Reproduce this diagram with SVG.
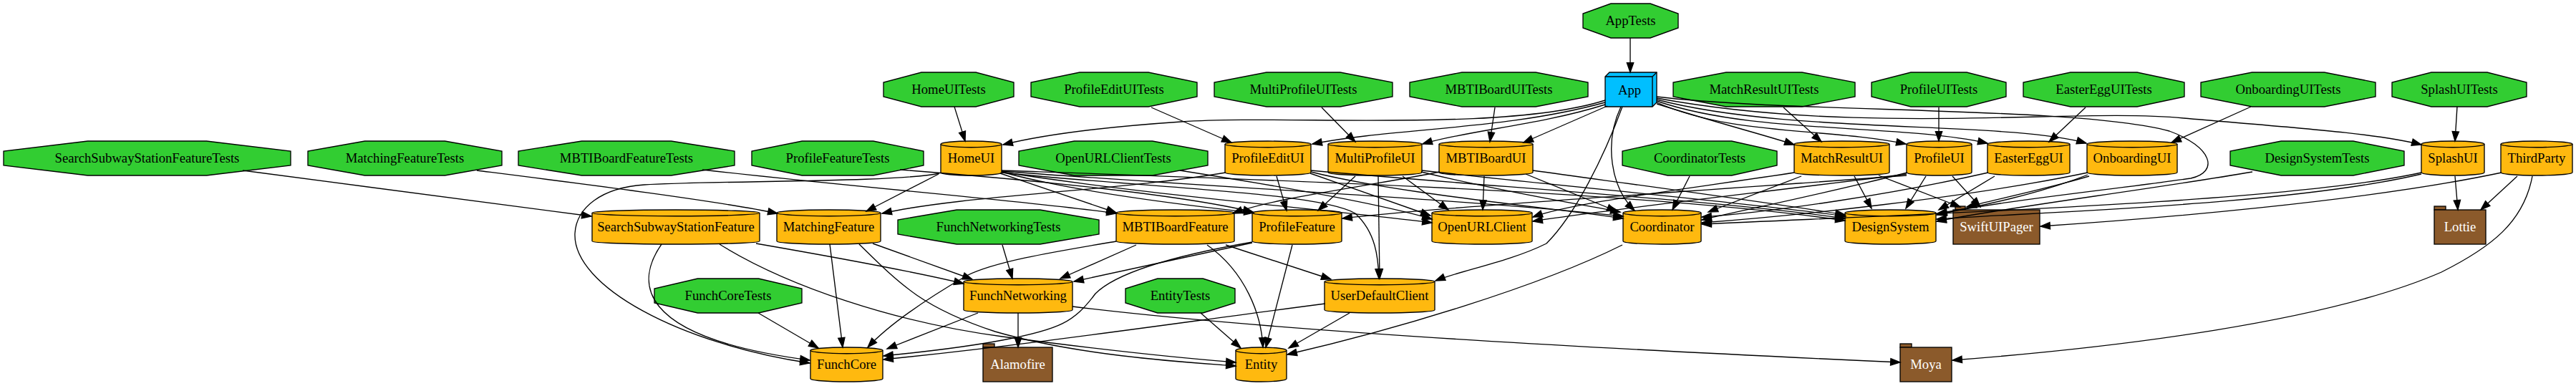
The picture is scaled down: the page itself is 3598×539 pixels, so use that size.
<svg xmlns="http://www.w3.org/2000/svg" width="3598" height="539" viewBox="0 0 3598 539">
<style>
.oct{fill:#32cd32;stroke:#000;stroke-width:1.33}
.cyl{fill:#ffb90f;stroke:#000;stroke-width:1.33}
.cf{fill:none;stroke:#000;stroke-width:1.33}
.fold{fill:#8b5a2b;stroke:#000;stroke-width:1.33}
.app{fill:#00bfff;stroke:#000;stroke-width:1.33}
text{font-family:"Liberation Serif","Times New Roman",serif;font-size:18.67px;text-anchor:middle;fill:#000}
text.w{fill:#fff}
#edges path{fill:none;stroke:#000;stroke-width:1.33;marker-end:url(#a)}
</style>
<defs>
<marker id="a" markerWidth="14" markerHeight="10" refX="13.3" refY="4.67" orient="auto" markerUnits="userSpaceOnUse" overflow="visible"><path d="M0,0 L13.3,4.67 L0,9.33 Z" fill="#000" stroke="#000" stroke-width="1.33"/></marker>
</defs>
<rect width="3598" height="539" fill="#fff"/>
<g id="nodes">
<g id="AppTests"><polygon class="oct" points="2250,5 2305,5 2344,19 2344,39 2305,53 2250,53 2211,39 2211,19"/><text x="2277.5" y="35">AppTests</text></g>
<g id="HomeUITests"><polygon class="oct" points="1287,101 1363,101 1416,115 1416,135 1363,149 1287,149 1234,135 1234,115"/><text x="1325" y="131">HomeUITests</text></g>
<g id="ProfileEditUITests"><polygon class="oct" points="1508,101 1604,101 1672,115 1672,135 1604,149 1508,149 1440,135 1440,115"/><text x="1556" y="131">ProfileEditUITests</text></g>
<g id="MultiProfileUITests"><polygon class="oct" points="1769,101 1872,101 1945,115 1945,135 1872,149 1769,149 1696,135 1696,115"/><text x="1820.5" y="131">MultiProfileUITests</text></g>
<g id="MBTIBoardUITests"><polygon class="oct" points="2042,101 2145,101 2218,115 2218,135 2145,149 2042,149 1969,135 1969,115"/><text x="2093.5" y="131">MBTIBoardUITests</text></g>
<g id="App"><polygon class="app" points="2242,107 2248,101 2314,101 2314,143 2308,149 2242,149"/><path class="cf" d="M2242,107 L2308,107 L2308,149 M2308,107 L2314,101"/><text x="2276" y="132">App</text></g>
<g id="MatchResultUITests"><polygon class="oct" points="2411,101 2517,101 2591,115 2591,135 2517,149 2411,149 2337,135 2337,115"/><text x="2464" y="131">MatchResultUITests</text></g>
<g id="ProfileUITests"><polygon class="oct" points="2669,101 2747,101 2802,115 2802,135 2747,149 2669,149 2614,135 2614,115"/><text x="2708" y="131">ProfileUITests</text></g>
<g id="EasterEggUITests"><polygon class="oct" points="2892,101 2985,101 3051,115 3051,135 2985,149 2892,149 2826,135 2826,115"/><text x="2938.5" y="131">EasterEggUITests</text></g>
<g id="OnboardingUITests"><polygon class="oct" points="3145.5,101 3246.5,101 3318,115 3318,135 3246.5,149 3145.5,149 3074,135 3074,115"/><text x="3196" y="131">OnboardingUITests</text></g>
<g id="SplashUITests"><polygon class="oct" points="3396,101 3474,101 3529,115 3529,135 3474,149 3396,149 3341,135 3341,115"/><text x="3435" y="131">SplashUITests</text></g>
<g id="SearchSubwayStationFeatureTests"><polygon class="oct" points="122.5,197 288.5,197 406,211 406,231 288.5,245 122.5,245 5,231 5,211"/><text x="205.5" y="227">SearchSubwayStationFeatureTests</text></g>
<g id="MatchingFeatureTests"><polygon class="oct" points="509.5,197 621.5,197 701,211 701,231 621.5,245 509.5,245 430,231 430,211"/><text x="565.5" y="227">MatchingFeatureTests</text></g>
<g id="MBTIBoardFeatureTests"><polygon class="oct" points="812.5,197 937.5,197 1026,211 1026,231 937.5,245 812.5,245 724,231 724,211"/><text x="875" y="227">MBTIBoardFeatureTests</text></g>
<g id="ProfileFeatureTests"><polygon class="oct" points="1120.3,197 1219.7,197 1290,211 1290,231 1219.7,245 1120.3,245 1050,231 1050,211"/><text x="1170" y="227">ProfileFeatureTests</text></g>
<g id="OpenURLClientTests"><polygon class="oct" points="1500.4,197 1609.6,197 1687,211 1687,231 1609.6,245 1500.4,245 1423,231 1423,211"/><text x="1555" y="227">OpenURLClientTests</text></g>
<g id="CoordinatorTests"><polygon class="oct" points="2329.3,197 2418.7,197 2482,211 2482,231 2418.7,245 2329.3,245 2266,231 2266,211"/><text x="2374" y="227">CoordinatorTests</text></g>
<g id="DesignSystemTests"><polygon class="oct" points="3186.2,197 3286.8,197 3358,211 3358,231 3286.8,245 3186.2,245 3115,231 3115,211"/><text x="3236.5" y="227">DesignSystemTests</text></g>
<g id="FunchNetworkingTests"><polygon class="oct" points="1336.3,293 1452.7,293 1535,307 1535,327 1452.7,341 1336.3,341 1254,327 1254,307"/><text x="1394.5" y="323">FunchNetworkingTests</text></g>
<g id="FunchCoreTests"><polygon class="oct" points="974.4,389 1059.6,389 1120,403 1120,423 1059.6,437 974.4,437 914,423 914,403"/><text x="1017" y="419">FunchCoreTests</text></g>
<g id="EntityTests"><polygon class="oct" points="1616.8,389 1680.2,389 1725,403 1725,423 1680.2,437 1616.8,437 1572,423 1572,403"/><text x="1648.5" y="419">EntityTests</text></g>

<g id="HomeUI"><path class="cyl" d="M1399,201.36 A42.5,4.36 0 0 0 1314,201.36 V240.64 A42.5,4.36 0 0 0 1399,240.64 Z"/><path class="cf" d="M1399,201.36 A42.5,4.36 0 0 1 1314,201.36"/><text x="1356.5" y="227">HomeUI</text></g>
<g id="ProfileEditUI"><path class="cyl" d="M1831,201.36 A60,4.36 0 0 0 1711,201.36 V240.64 A60,4.36 0 0 0 1831,240.64 Z"/><path class="cf" d="M1831,201.36 A60,4.36 0 0 1 1711,201.36"/><text x="1771" y="227">ProfileEditUI</text></g>
<g id="MultiProfileUI"><path class="cyl" d="M1986,201.36 A65.5,4.36 0 0 0 1855,201.36 V240.64 A65.5,4.36 0 0 0 1986,240.64 Z"/><path class="cf" d="M1986,201.36 A65.5,4.36 0 0 1 1855,201.36"/><text x="1920.5" y="227">MultiProfileUI</text></g>
<g id="MBTIBoardUI"><path class="cyl" d="M2141,201.36 A65.5,4.36 0 0 0 2010,201.36 V240.64 A65.5,4.36 0 0 0 2141,240.64 Z"/><path class="cf" d="M2141,201.36 A65.5,4.36 0 0 1 2010,201.36"/><text x="2075.5" y="227">MBTIBoardUI</text></g>
<g id="MatchResultUI"><path class="cyl" d="M2639,201.36 A66.5,4.36 0 0 0 2506,201.36 V240.64 A66.5,4.36 0 0 0 2639,240.64 Z"/><path class="cf" d="M2639,201.36 A66.5,4.36 0 0 1 2506,201.36"/><text x="2572.5" y="227">MatchResultUI</text></g>
<g id="ProfileUI"><path class="cyl" d="M2754,201.36 A45.5,4.36 0 0 0 2663,201.36 V240.64 A45.5,4.36 0 0 0 2754,240.64 Z"/><path class="cf" d="M2754,201.36 A45.5,4.36 0 0 1 2663,201.36"/><text x="2708.5" y="227">ProfileUI</text></g>
<g id="EasterEggUI"><path class="cyl" d="M2891,201.36 A57.5,4.36 0 0 0 2776,201.36 V240.64 A57.5,4.36 0 0 0 2891,240.64 Z"/><path class="cf" d="M2891,201.36 A57.5,4.36 0 0 1 2776,201.36"/><text x="2833.5" y="227">EasterEggUI</text></g>
<g id="OnboardingUI"><path class="cyl" d="M3041,201.36 A63,4.36 0 0 0 2915,201.36 V240.64 A63,4.36 0 0 0 3041,240.64 Z"/><path class="cf" d="M3041,201.36 A63,4.36 0 0 1 2915,201.36"/><text x="2978" y="227">OnboardingUI</text></g>
<g id="SplashUI"><path class="cyl" d="M3470,201.36 A44,4.36 0 0 0 3382,201.36 V240.64 A44,4.36 0 0 0 3470,240.64 Z"/><path class="cf" d="M3470,201.36 A44,4.36 0 0 1 3382,201.36"/><text x="3426" y="227">SplashUI</text></g>
<g id="ThirdParty"><path class="cyl" d="M3593,201.36 A50,4.36 0 0 0 3493,201.36 V240.64 A50,4.36 0 0 0 3593,240.64 Z"/><path class="cf" d="M3593,201.36 A50,4.36 0 0 1 3493,201.36"/><text x="3543" y="227">ThirdParty</text></g>
<g id="SearchSubwayStationFeature"><path class="cyl" d="M1061,297.36 A117,4.36 0 0 0 827,297.36 V336.64 A117,4.36 0 0 0 1061,336.64 Z"/><path class="cf" d="M1061,297.36 A117,4.36 0 0 1 827,297.36"/><text x="944" y="323">SearchSubwayStationFeature</text></g>
<g id="MatchingFeature"><path class="cyl" d="M1230,297.36 A72.5,4.36 0 0 0 1085,297.36 V336.64 A72.5,4.36 0 0 0 1230,336.64 Z"/><path class="cf" d="M1230,297.36 A72.5,4.36 0 0 1 1085,297.36"/><text x="1157.5" y="323">MatchingFeature</text></g>
<g id="MBTIBoardFeature"><path class="cyl" d="M1724,297.36 A82.5,4.36 0 0 0 1559,297.36 V336.64 A82.5,4.36 0 0 0 1724,336.64 Z"/><path class="cf" d="M1724,297.36 A82.5,4.36 0 0 1 1559,297.36"/><text x="1641.5" y="323">MBTIBoardFeature</text></g>
<g id="ProfileFeature"><path class="cyl" d="M1874,297.36 A62.5,4.36 0 0 0 1749,297.36 V336.64 A62.5,4.36 0 0 0 1874,336.64 Z"/><path class="cf" d="M1874,297.36 A62.5,4.36 0 0 1 1749,297.36"/><text x="1811.5" y="323">ProfileFeature</text></g>
<g id="OpenURLClient"><path class="cyl" d="M2140,297.36 A70,4.36 0 0 0 2000,297.36 V336.64 A70,4.36 0 0 0 2140,336.64 Z"/><path class="cf" d="M2140,297.36 A70,4.36 0 0 1 2000,297.36"/><text x="2070" y="323">OpenURLClient</text></g>
<g id="Coordinator"><path class="cyl" d="M2376,297.36 A54.5,4.36 0 0 0 2267,297.36 V336.64 A54.5,4.36 0 0 0 2376,336.64 Z"/><path class="cf" d="M2376,297.36 A54.5,4.36 0 0 1 2267,297.36"/><text x="2321.5" y="323">Coordinator</text></g>
<g id="DesignSystem"><path class="cyl" d="M2704,297.36 A63.5,4.36 0 0 0 2577,297.36 V336.64 A63.5,4.36 0 0 0 2704,336.64 Z"/><path class="cf" d="M2704,297.36 A63.5,4.36 0 0 1 2577,297.36"/><text x="2640.5" y="323">DesignSystem</text></g>
<g id="FunchNetworking"><path class="cyl" d="M1498,393.36 A76,4.36 0 0 0 1346,393.36 V432.64 A76,4.36 0 0 0 1498,432.64 Z"/><path class="cf" d="M1498,393.36 A76,4.36 0 0 1 1346,393.36"/><text x="1422" y="419">FunchNetworking</text></g>
<g id="UserDefaultClient"><path class="cyl" d="M2004,393.36 A77,4.36 0 0 0 1850,393.36 V432.64 A77,4.36 0 0 0 2004,432.64 Z"/><path class="cf" d="M2004,393.36 A77,4.36 0 0 1 1850,393.36"/><text x="1927" y="419">UserDefaultClient</text></g>
<g id="FunchCore"><path class="cyl" d="M1233,489.36 A50.5,4.36 0 0 0 1132,489.36 V528.64 A50.5,4.36 0 0 0 1233,528.64 Z"/><path class="cf" d="M1233,489.36 A50.5,4.36 0 0 1 1132,489.36"/><text x="1182.5" y="515">FunchCore</text></g>
<g id="Entity"><path class="cyl" d="M1797,489.36 A35.5,4.36 0 0 0 1726,489.36 V528.64 A35.5,4.36 0 0 0 1797,528.64 Z"/><path class="cf" d="M1797,489.36 A35.5,4.36 0 0 1 1726,489.36"/><text x="1761.5" y="515">Entity</text></g>

<g id="SwiftUIPager"><rect class="fold" x="2731" y="288" width="14" height="5"/><rect class="fold" x="2728" y="293" width="121" height="48"/><text class="w" x="2788.5" y="323">SwiftUIPager</text></g>
<g id="Lottie"><rect class="fold" x="3400" y="288" width="16" height="5"/><rect class="fold" x="3400" y="293" width="72" height="48"/><text class="w" x="3436" y="323">Lottie</text></g>
<g id="Alamofire"><rect class="fold" x="1373" y="480" width="16" height="5"/><rect class="fold" x="1373" y="485" width="97" height="48"/><text class="w" x="1421.5" y="515">Alamofire</text></g>
<g id="Moya"><rect class="fold" x="2654" y="480" width="16" height="5"/><rect class="fold" x="2654" y="485" width="72" height="48"/><text class="w" x="2690" y="515">Moya</text></g>
</g>
<g id="edges">
<path d="M2277,53 L2277,101"/>
<path d="M1333,149 L1348,197"/>
<path d="M1608,150 L1720,199"/>
<path d="M1846,150 L1893,198"/>
<path d="M2088,150 L2081,198"/>
<path d="M2491,150 L2544,198"/>
<path d="M2708,150 L2708,197"/>
<path d="M2913,150 L2862,198"/>
<path d="M3144,149 L3033,199"/>
<path d="M3432,149 L3429,197"/>
<path d="M339,238 L826,302"/>
<path d="M666,238 C800,255 1000,280 1086,298"/>
<path d="M981,237 C1200,262 1450,282 1559,298"/>
<path d="M1257,237 C1450,252 1650,272 1750,296"/>
<path d="M1648,238 C1800,262 1930,285 2000,306"/>
<path d="M2360,246 L2336,293"/>
<path d="M3146,240 C3000,265 2800,290 2705,309"/>
<path d="M1400,342 L1414,389"/>
<path d="M1059,437 L1143,486"/>
<path d="M1677,437 L1733,486"/>
<path d="M2242,140 C2100,185 1800,160 1650,170 C1530,178 1450,190 1401,202"/>
<path d="M2242,143 C2100,182 1950,178 1833,201"/>
<path d="M2242,146 C2150,175 2050,182 1987,201"/>
<path d="M2245,148 L2128,199"/>
<path d="M2264,149 C2240,200 2250,262 2283,294"/>
<path d="M2266,149 C2240,220 2200,300 2160,340 C2110,365 2040,378 2005,392"/>
<path d="M2314,145 C2400,172 2470,190 2506,202"/>
<path d="M2314,143 C2420,190 2550,178 2662,201"/>
<path d="M2314,141 C2450,188 2650,172 2776,200"/>
<path d="M2314,139 C2500,188 2800,168 2914,200"/>
<path d="M2314,137 C2600,190 2900,150 3050,165 C3200,178 3320,186 3382,202"/>
<path d="M2314,135 C2500,158 2900,148 3030,183 C3090,205 3100,240 3060,249 C2950,265 2780,282 2705,300"/>
<path d="M1312,242 C1250,255 1000,252 900,258 C840,262 805,290 803,326 C800,400 950,480 1131,507"/>
<path d="M1311,243 L1210,295"/>
<path d="M1397,242 L1559,297"/>
<path d="M1399,240 C1500,268 1650,286 1751,297"/>
<path d="M1399,240 C1600,272 1850,292 2000,311"/>
<path d="M1399,239 C1700,262 2050,278 2267,302"/>
<path d="M1399,238 C1800,252 2300,268 2577,308"/>
<path d="M1399,241 C1600,262 1840,268 1893,298 C1922,325 1925,360 1926,389"/>
<path d="M1783,246 L1797,294"/>
<path d="M1712,241 C1550,268 1350,272 1232,298"/>
<path d="M1830,242 L1998,301"/>
<path d="M1831,240 C1950,270 2150,288 2267,305"/>
<path d="M1831,238 C2100,262 2400,280 2577,305"/>
<path d="M1893,246 L1841,294"/>
<path d="M1925,246 L1927,389"/>
<path d="M1959,246 L2023,293"/>
<path d="M1985,240 C2100,268 2200,284 2263,296"/>
<path d="M1986,238 C2200,262 2450,284 2578,302"/>
<path d="M2011,240 C1900,262 1780,276 1722,298"/>
<path d="M2073,246 L2071,293"/>
<path d="M2131,243 L2258,295"/>
<path d="M2141,238 C2300,260 2480,284 2577,300"/>
<path d="M2516,246 L2386,296"/>
<path d="M2590,246 L2614,291"/>
<path d="M2624,245 L2738,289"/>
<path d="M2506,241 C2350,265 2200,282 2141,303"/>
<path d="M2690,246 L2662,291"/>
<path d="M2727,246 L2766,289"/>
<path d="M2664,241 C2550,270 2450,290 2377,307"/>
<path d="M2663,243 C2450,270 2250,292 2141,309"/>
<path d="M2663,245 C2300,272 2000,290 1875,305"/>
<path d="M2786,246 L2708,293"/>
<path d="M2777,241 C2650,270 2480,296 2377,303"/>
<path d="M2916,241 C2750,276 2500,302 2377,311"/>
<path d="M2916,244 C2850,270 2760,290 2706,298"/>
<path d="M2918,246 C2850,266 2780,280 2747,289"/>
<path d="M3429,246 L3433,293"/>
<path d="M3382,241 C3200,282 2700,298 2377,313"/>
<path d="M3382,243 C3200,286 2850,296 2705,306"/>
<path d="M3516,246 L3465,293"/>
<path d="M3494,241 C3300,282 3000,306 2850,316"/>
<path d="M3537,246 C3525,310 3480,345 3410,380 C3250,450 2950,486 2727,503"/>
<path d="M924,341 C890,390 880,470 1131,503"/>
<path d="M1056,340 C1200,365 1300,385 1346,396"/>
<path d="M1005,341 C1100,400 1250,450 1400,470 C1550,490 1650,500 1726,506"/>
<path d="M1159,341 L1177,485"/>
<path d="M1219,340 L1358,390"/>
<path d="M1200,341 C1260,400 1290,430 1390,463 C1500,495 1640,505 1726,511"/>
<path d="M1587,342 L1481,389"/>
<path d="M1559,337 C1470,352 1390,365 1350,385 C1290,420 1240,455 1212,485"/>
<path d="M1686,342 C1740,380 1762,440 1764,485"/>
<path d="M1712,342 L1859,390"/>
<path d="M1749,339 C1650,360 1560,380 1500,393"/>
<path d="M1805,342 L1768,485"/>
<path d="M1749,338 C1640,357 1560,380 1530,410 C1500,450 1480,460 1400,475 C1330,488 1280,492 1234,497"/>
<path d="M1366,437 L1239,487"/>
<path d="M1422,437 L1422,485"/>
<path d="M1498,428 C1800,465 2300,490 2654,506"/>
<path d="M1885,437 L1800,486"/>
<path d="M1851,424 C1650,450 1450,480 1234,502"/>
<path d="M2266,342 C2150,400 1950,460 1798,495"/>
</g>
</svg>
